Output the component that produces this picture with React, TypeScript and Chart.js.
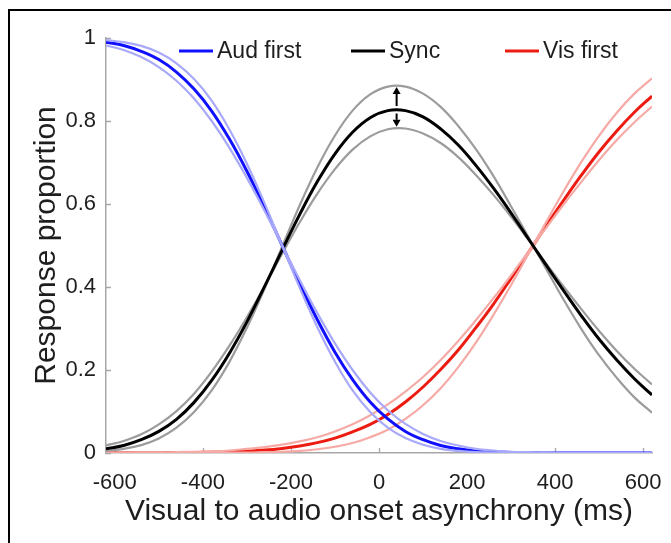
import React, { useEffect, useRef } from "react";
import { Chart, registerables } from "chart.js";

Chart.register(...registerables);

// ---- data ----
const asynchronyMs = [-620, -580, -540, -500, -460, -420, -380, -340, -300, -260, -220, -180, -140, -100, -60, -20, 20, 60, 100, 140, 180, 220, 260, 300, 340, 380, 420, 460, 500, 540, 580, 620];

const audFirst = [0.990, 0.982, 0.968, 0.948, 0.918, 0.877, 0.824, 0.757, 0.679, 0.592, 0.500, 0.408, 0.321, 0.243, 0.177, 0.123, 0.082, 0.052, 0.032, 0.018, 0.010, 0.005, 0.003, 0.001, 0.001, 0, 0, 0, 0, 0, 0, 0];
const audFirstSteep = [0.995, 0.990, 0.981, 0.965, 0.939, 0.901, 0.849, 0.780, 0.697, 0.602, 0.500, 0.398, 0.303, 0.220, 0.151, 0.099, 0.061, 0.036, 0.020, 0.010, 0.005, 0.002, 0.001, 0, 0, 0, 0, 0, 0, 0, 0, 0];
const audFirstShallow = [0.982, 0.971, 0.954, 0.930, 0.897, 0.854, 0.800, 0.736, 0.663, 0.584, 0.500, 0.417, 0.337, 0.264, 0.200, 0.146, 0.103, 0.070, 0.046, 0.029, 0.018, 0.010, 0.006, 0.003, 0.002, 0.001, 0, 0, 0, 0, 0, 0];

const syncResp = [0.010, 0.018, 0.032, 0.052, 0.081, 0.122, 0.175, 0.240, 0.316, 0.401, 0.489, 0.575, 0.654, 0.721, 0.773, 0.808, 0.825, 0.825, 0.810, 0.781, 0.742, 0.693, 0.638, 0.578, 0.515, 0.452, 0.390, 0.330, 0.274, 0.224, 0.179, 0.140];
const syncHigh = [0.005, 0.010, 0.019, 0.035, 0.061, 0.099, 0.151, 0.219, 0.302, 0.396, 0.497, 0.597, 0.688, 0.765, 0.825, 0.864, 0.883, 0.883, 0.866, 0.834, 0.788, 0.732, 0.667, 0.594, 0.519, 0.443, 0.368, 0.298, 0.235, 0.181, 0.134, 0.097];
const syncLow = [0.018, 0.029, 0.045, 0.069, 0.101, 0.143, 0.196, 0.258, 0.327, 0.402, 0.480, 0.556, 0.625, 0.684, 0.731, 0.763, 0.780, 0.782, 0.770, 0.747, 0.713, 0.670, 0.622, 0.569, 0.513, 0.456, 0.400, 0.346, 0.294, 0.246, 0.203, 0.165];

const visFirst = [0, 0, 0, 0, 0.001, 0.001, 0.002, 0.003, 0.005, 0.007, 0.011, 0.017, 0.025, 0.036, 0.051, 0.069, 0.093, 0.123, 0.159, 0.201, 0.248, 0.302, 0.359, 0.421, 0.484, 0.548, 0.610, 0.670, 0.726, 0.776, 0.821, 0.860];
const visFirstSteep = [0, 0, 0, 0, 0, 0, 0, 0.001, 0.001, 0.002, 0.003, 0.005, 0.009, 0.015, 0.024, 0.038, 0.056, 0.082, 0.115, 0.156, 0.207, 0.266, 0.333, 0.405, 0.481, 0.557, 0.632, 0.702, 0.765, 0.820, 0.866, 0.903];
const visFirstShallow = [0, 0, 0.001, 0.001, 0.002, 0.003, 0.004, 0.006, 0.010, 0.014, 0.020, 0.028, 0.038, 0.052, 0.069, 0.091, 0.117, 0.148, 0.183, 0.224, 0.270, 0.320, 0.373, 0.428, 0.486, 0.543, 0.600, 0.654, 0.706, 0.754, 0.797, 0.835];

const xTickValues = [-600, -400, -200, 0, 200, 400, 600];
const yTickValues = [0, 0.2, 0.4, 0.6, 0.8, 1];
const legendLabels = ["Aud first", "Sync", "Vis first"];

// arrows at the Sync peak: [x, from, to]
const arrowMarks = [
  [40, 0.836, 0.882],
  [40, 0.818, 0.786],
];

const FONT = "'Liberation Sans', Arial, Helvetica, sans-serif";
const TEXT = "#1e1e1e";
const AXIS = "#a8a8a8";

const innerTicks = {
  id: "innerTicks",
  beforeDatasetsDraw(chart: any) {
    const { ctx, chartArea, scales } = chart;
    const x = scales.x;
    const y = scales.y;
    ctx.save();
    ctx.strokeStyle = AXIS;
    ctx.lineWidth = 1.3;
    ctx.beginPath();
    x.ticks.forEach((t: any) => {
      const px = Math.round(x.getPixelForValue(t.value)) + 0.5;
      ctx.moveTo(px, chartArea.bottom);
      ctx.lineTo(px, chartArea.bottom - 5);
    });
    y.ticks.forEach((t: any) => {
      const py = Math.round(y.getPixelForValue(t.value)) + 0.5;
      ctx.moveTo(chartArea.left, py);
      ctx.lineTo(chartArea.left + 5, py);
    });
    ctx.stroke();
    ctx.restore();
  },
};

const arrowsPlugin = {
  id: "peakArrows",
  afterDatasetsDraw(chart: any) {
    const { ctx, scales } = chart;
    ctx.save();
    ctx.strokeStyle = "#000";
    ctx.fillStyle = "#000";
    ctx.lineWidth = 2;
    arrowMarks.forEach(([xv, from, to]) => {
      const px = scales.x.getPixelForValue(xv);
      const y0 = scales.y.getPixelForValue(from);
      const y1 = scales.y.getPixelForValue(to);
      const dir = y1 < y0 ? -1 : 1;
      const head = 7;
      ctx.beginPath();
      ctx.moveTo(px, y0);
      ctx.lineTo(px, y1 - dir * head);
      ctx.stroke();
      ctx.beginPath();
      ctx.moveTo(px, y1);
      ctx.lineTo(px - 4, y1 - dir * head);
      ctx.lineTo(px + 4, y1 - dir * head);
      ctx.closePath();
      ctx.fill();
    });
    ctx.restore();
  },
};

const legendPlugin = {
  id: "customLegend",
  afterDatasetsDraw(chart: any, _args: any, opts: any) {
    const { ctx } = chart;
    ctx.save();
    ctx.font = `23px ${FONT}`;
    ctx.textBaseline = "middle";
    ctx.textAlign = "left";
    legendLabels.forEach((lab, i) => {
      const ds = chart.data.datasets.find((d: any) => d.label === lab);
      const x0 = opts.xs[i];
      const y0 = opts.y;
      ctx.strokeStyle = ds.borderColor;
      ctx.lineWidth = 3;
      ctx.beginPath();
      ctx.moveTo(x0, y0);
      ctx.lineTo(x0 + 34, y0);
      ctx.stroke();
      ctx.fillStyle = TEXT;
      ctx.fillText(lab, x0 + 38, y0 + 1);
    });
    ctx.restore();
  },
};

export default function App() {
  const ref = useRef<HTMLCanvasElement>(null);

  useEffect(() => {
    const canvas = ref.current!;
    Chart.defaults.font.family = FONT;
    const pts = (ys: number[]) => asynchronyMs.map((x, i) => ({ x, y: ys[i] }));
    const mk = (label: string, ys: number[], color: string, width: number, order: number) => ({
      label,
      data: pts(ys),
      borderColor: color,
      backgroundColor: color,
      borderWidth: width,
      pointRadius: 0,
      tension: 0.4,
      fill: false,
      order,
    });

    const chart = new Chart(canvas, {
      type: "line",
      data: {
        datasets: [
          mk("Aud first", audFirst, "#1010ff", 3, 1),
          mk("Aud first upper", audFirstSteep, "#a9a9fb", 2.2, 0),
          mk("Aud first lower", audFirstShallow, "#a9a9fb", 2.2, 0),
          mk("Sync", syncResp, "#000000", 3, 2),
          mk("Sync upper", syncHigh, "#9c9c9c", 2.2, 3),
          mk("Sync lower", syncLow, "#9c9c9c", 2.2, 3),
          mk("Vis first", visFirst, "#ec1c12", 3, 5),
          mk("Vis first upper", visFirstSteep, "#f6aaa6", 2.2, 4),
          mk("Vis first lower", visFirstShallow, "#f6aaa6", 2.2, 4),
        ],
      },
      options: {
        responsive: false,
        animation: false,
        events: [],
        layout: { autoPadding: false, padding: { top: 38, right: 19, bottom: 0, left: 0 } },
        plugins: {
          legend: { display: false },
          tooltip: { enabled: false },
          customLegend: { xs: [179, 351, 505], y: 51 },
        } as any,
        scales: {
          x: {
            type: "linear",
            min: -620,
            max: 620,
            afterBuildTicks: (s: any) => {
              s.ticks = xTickValues.map((v) => ({ value: v }));
            },
            afterFit: (s: any) => {
              s.height = 90;
              s.paddingLeft = 0;
              s.paddingRight = 0;
            },
            ticks: {
              color: TEXT,
              font: { size: 22 },
              padding: 17,
              maxRotation: 0,
              autoSkip: false,
              callback: (v: any) => String(v),
            },
            grid: { display: false, drawTicks: false },
            border: { display: true, color: AXIS, width: 1.5 },
            title: {
              display: true,
              text: "Visual to audio onset asynchrony (ms)",
              color: TEXT,
              font: { size: 30 },
              padding: { top: 0, bottom: 13 },
            },
          },
          y: {
            type: "linear",
            min: 0,
            max: 1,
            afterBuildTicks: (s: any) => {
              s.ticks = yTickValues.map((v) => ({ value: v }));
            },
            afterFit: (s: any) => {
              s.width = 106;
              s.paddingTop = 0;
              s.paddingBottom = 0;
            },
            ticks: {
              color: TEXT,
              font: { size: 22 },
              padding: 10,
              callback: (v: any) => String(v),
            },
            grid: { display: false, drawTicks: false },
            border: { display: true, color: AXIS, width: 1.5 },
            title: {
              display: true,
              text: "Response proportion",
              color: TEXT,
              font: { size: 30 },
              padding: { top: 29, bottom: 0 },
            },
          },
        },
      },
      plugins: [innerTicks, arrowsPlugin, legendPlugin],
    });
    return () => chart.destroy();
  }, []);

  return (
    <>
      <canvas
        ref={ref}
        width={671}
        height={543}
        style={{ position: "fixed", left: 0, top: 0, width: 671, height: 543, background: "#fff" }}
      />
      <div
        style={{
          position: "fixed",
          left: 8,
          top: 9,
          right: 0,
          bottom: 0,
          borderTop: "2px solid #000",
          borderLeft: "2px solid #000",
          pointerEvents: "none",
        }}
      />
    </>
  );
}
